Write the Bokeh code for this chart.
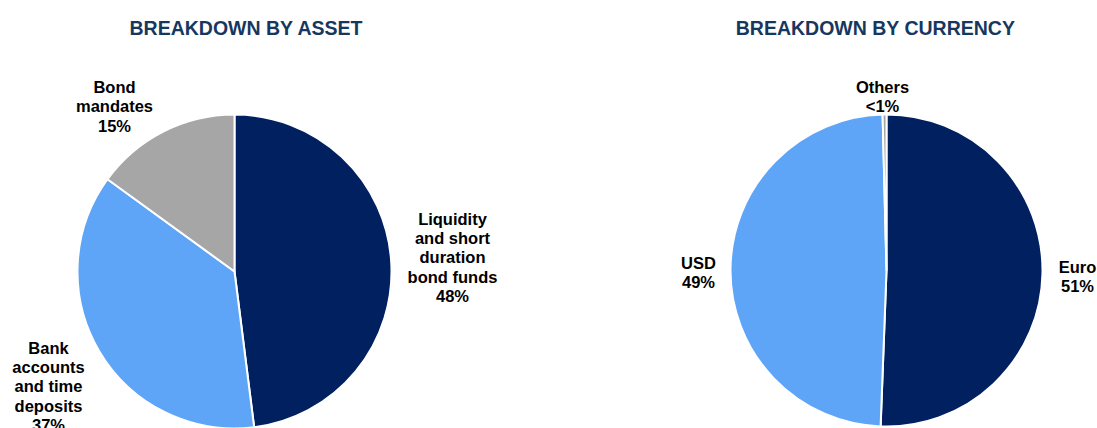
import math
from bokeh.plotting import figure
from bokeh.models import Range1d, ColumnDataSource
from bokeh.core.properties import value
from bokeh.embed import file_html
from bokeh.resources import INLINE

# ---- data ----
asset_names = ["Liquidity and short duration bond funds", "Bank accounts and time deposits", "Bond mandates"]
asset_values = [48, 37, 15]
asset_labels = ["Liquidity\nand short\nduration\nbond funds\n48%",
                "Bank\naccounts\nand time\ndeposits\n37%",
                "Bond\nmandates\n15%"]

currency_names = ["Euro", "USD", "Others"]
currency_values = [50.6, 49.0, 0.4]
currency_labels = ["Euro\n51%", "USD\n49%", "Others\n<1%"]

colors = ["#002060", "#5EA5F7", "#A6A6A6"]
title_color = "#17375E"
FONT = "Liberation Sans"

W, H = 1097, 428
p = figure(width=W, height=H, output_backend="svg", toolbar_location=None,
           x_range=Range1d(0, W), y_range=Range1d(0, H), min_border=0)
p.axis.visible = False
p.grid.visible = False
p.outline_line_color = None
p.background_fill_color = "white"
p.border_fill_color = "white"


def py(page_y):
    return H - page_y


def pie(cx, cy, r, vals):
    tot = sum(vals)
    starts, ends = [], []
    acc = 0.0
    for v in vals:
        starts.append(math.pi / 2 - 2 * math.pi * acc / tot)
        acc += v
        ends.append(math.pi / 2 - 2 * math.pi * acc / tot)
    src = ColumnDataSource(dict(x=[cx] * len(vals), y=[cy] * len(vals),
                                s=starts, e=ends, c=colors[:len(vals)]))
    p.wedge(x="x", y="y", radius=r, radius_units="screen", start_angle="s", end_angle="e",
            direction="clock", fill_color="c", line_color="white", line_width=2, source=src)


pie(234, py(271), 157, asset_values)
pie(886, py(270), 156, currency_values)


def label(x, y, t, size="16.5px", color="black"):
    p.text(x=[x], y=[py(y)], text=[t], text_font=value(FONT), text_font_style="bold",
           text_font_size=size, text_color=color, text_align="center",
           text_baseline="middle", text_line_height=1.07)


label(246, 27, "BREAKDOWN BY ASSET", "19.5px", title_color)
label(875, 27, "BREAKDOWN BY CURRENCY", "19.5px", title_color)

label(452, 257, asset_labels[0])
label(48, 386, asset_labels[1])
label(114, 106, asset_labels[2])

label(1077, 276, currency_labels[0])
label(698, 272, currency_labels[1])
label(882, 96, currency_labels[2])

open("out.html", "w").write(file_html(p, INLINE))
